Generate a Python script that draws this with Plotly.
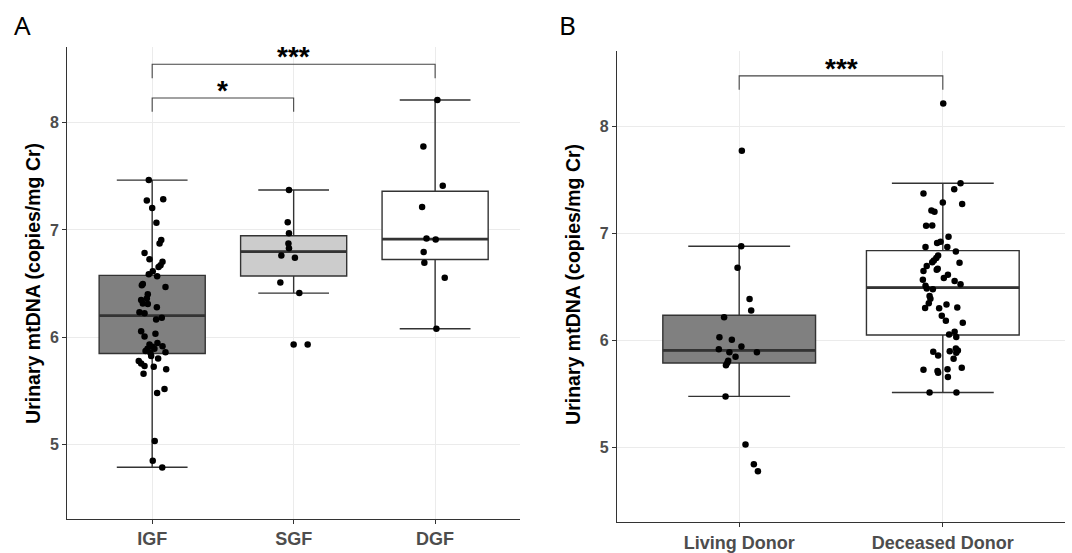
import plotly.graph_objects as go

# ---------------- data ----------------
groups_a = ["IGF", "SGF", "DGF"]
groups_b = ["Living Donor", "Deceased Donor"]

igf_values = [7.465, 7.274, 7.287, 7.204, 7.068, 6.905, 6.874, 6.785, 6.727, 6.702,
              6.671, 6.653, 6.613, 6.585, 6.567, 6.496, 6.484, 6.468, 6.40, 6.36,
              6.345, 6.314, 6.308, 6.277, 6.231, 6.222, 6.179, 6.163, 6.053, 6.006,
              6.031, 5.945, 5.914, 5.93, 5.91, 5.89, 5.87, 5.85, 5.89, 5.859,
              5.80, 5.822, 5.776, 5.754, 5.73, 5.723, 5.699, 5.658, 5.514, 5.477,
              5.030, 4.846, 4.781]
igf_jitter = [-0.024, -0.038, 0.078, 0.0, 0.030, 0.064, 0.052, -0.054, -0.019, 0.073,
              0.059, 0.045, 0.004, -0.024, 0.035, -0.066, -0.073, 0.094, -0.031, -0.038,
              -0.078, -0.066, -0.031, 0.033, -0.090, -0.054, 0.068, 0.028, -0.078, -0.054,
              0.023, 0.037, 0.073, -0.019, 0.002, -0.033, -0.047, -0.012, 0.016, 0.094,
              0.042, -0.007, -0.095, -0.078, -0.054, 0.011, 0.099, -0.061, 0.087, 0.035,
              0.018, 0.004, 0.071]

sgf_values = [7.373, 7.071, 6.970, 6.874, 6.828, 6.761, 6.739, 6.508, 6.41, 5.930, 5.930]
sgf_jitter = [-0.033, -0.042, -0.033, -0.037, -0.033, -0.087, 0.009, -0.094, 0.040, 0.0, 0.099]

dgf_values = [8.213, 7.778, 7.413, 7.213, 6.921, 6.911, 6.794, 6.693, 6.554, 6.078]
dgf_jitter = [0.016, -0.083, 0.054, -0.092, -0.061, 0.004, -0.081, -0.076, 0.068, 0.009]

living_values = [7.770, 6.877, 6.677, 6.385, 6.277, 6.215, 6.028, 6.006, 5.917, 5.942,
                 5.889, 5.889, 5.846, 5.809, 5.790, 5.766, 5.476, 5.028, 4.843, 4.778]
living_jitter = [0.013, 0.010, -0.008, 0.051, 0.059, -0.074, -0.097, -0.036, -0.100, 0.011,
                 -0.048, 0.087, -0.018, -0.054, -0.058, -0.065, -0.067, 0.031, 0.072, 0.092]

deceased_values = [8.210, 7.465, 7.410, 7.369, 7.286, 7.271, 7.212, 7.200, 7.068, 7.071,
                   6.967, 6.920, 6.908, 6.871, 6.871, 6.828, 6.791, 6.769, 6.744, 6.729,
                   6.723, 6.693, 6.646, 6.668, 6.659, 6.612, 6.582, 6.566, 6.554, 6.523,
                   6.508, 6.483, 6.477, 6.413, 6.388, 6.345, 6.302, 6.298, 6.335, 6.305,
                   6.228, 6.182, 6.163, 6.055, 6.080, 6.031, 5.892, 5.859, 5.898, 5.923,
                   5.905, 5.883, 5.828, 5.726, 5.714, 5.698, 5.729, 5.744, 5.658, 5.513,
                   5.513]
deceased_jitter = [0.002, 0.087, 0.056, -0.095, 0.0, 0.095, -0.056, -0.041, -0.082, -0.052,
                   0.028, -0.011, -0.028, -0.085, 0.022, 0.064, -0.023, -0.032, -0.044, -0.052,
                   0.082, -0.079, -0.095, -0.025, -0.030, 0.025, 0.005, -0.098, 0.058, 0.087,
                   -0.085, -0.079, -0.049, -0.065, -0.061, -0.069, -0.087, -0.018, 0.018, 0.071,
                   -0.005, 0.015, 0.098, 0.031, 0.058, 0.066, -0.047, -0.023, 0.034, 0.064,
                   0.074, 0.066, 0.053, -0.095, -0.026, -0.023, 0.023, 0.093, 0.025, -0.065,
                   0.067]

# box statistics
q1_a = [5.847, 6.570, 6.724]
median_a = [6.200, 6.798, 6.914]
q3_a = [6.576, 6.946, 7.361]
lower_a = [4.785, 6.410, 6.078]
upper_a = [7.465, 7.373, 8.213]

q1_b = [5.788, 6.049]
median_b = [5.905, 6.492]
q3_b = [6.234, 6.837]
lower_b = [5.476, 5.513]
upper_b = [6.877, 7.465]

# significance brackets: (group from, group to, height, label)
brackets_a = [(1, 3, 8.546, "***"), (1, 2, 8.232, "*")]
brackets_b = [(1, 2, 8.468, "***")]
bracket_drop = 0.13

y_ticks = [5, 6, 7, 8]
y_title = "Urinary mtDNA (copies/mg Cr)"

# ---------------- style ----------------
fills_a = ["#808080", "#cccccc", "#ffffff"]
fills_b = ["#808080", "#ffffff"]
line_col = "#333333"
box_w = 0.75
FONT = "Liberation Sans, Arial, sans-serif"

fig = go.Figure()


def add_panel(xa, ya, values_list, jitter_list, q1, med, q3, lo, hi, fills, brackets):
    for i in range(len(q1)):
        pos = i + 1
        fig.add_trace(go.Box(
            x=[pos], q1=[q1[i]], median=[med[i]], q3=[q3[i]],
            lowerfence=[lo[i]], upperfence=[hi[i]],
            fillcolor=fills[i], line=dict(color=line_col, width=1.4),
            width=box_w, whiskerwidth=0.667, boxpoints=False,
            xaxis=xa, yaxis=ya, showlegend=False, hoverinfo="skip"))
        fig.add_trace(go.Scatter(
            x=[pos - box_w / 2, pos + box_w / 2], y=[med[i], med[i]],
            mode="lines", line=dict(color=line_col, width=2.8),
            xaxis=xa, yaxis=ya, showlegend=False, hoverinfo="skip"))
    for i, (vals, jit) in enumerate(zip(values_list, jitter_list)):
        pos = i + 1
        fig.add_trace(go.Scatter(
            x=[pos + j for j in jit], y=vals, mode="markers",
            marker=dict(color="black", size=6.5),
            xaxis=xa, yaxis=ya, showlegend=False))
    for (g1, g2, h, lab) in brackets:
        fig.add_trace(go.Scatter(
            x=[g1, g1, g2, g2], y=[h - bracket_drop, h, h, h - bracket_drop],
            mode="lines", line=dict(color="#444444", width=1.1),
            xaxis=xa, yaxis=ya, showlegend=False, hoverinfo="skip"))
        fig.add_annotation(x=(g1 + g2) / 2, y=h, xref=xa, yref=ya, text=lab,
                           showarrow=False, yanchor="bottom", yshift=-10,
                           font=dict(family=FONT, size=28, color="black", weight="bold"))


add_panel("x", "y", [igf_values, sgf_values, dgf_values],
          [igf_jitter, sgf_jitter, dgf_jitter],
          q1_a, median_a, q3_a, lower_a, upper_a, fills_a, brackets_a)
add_panel("x2", "y2", [living_values, deceased_values],
          [living_jitter, deceased_jitter],
          q1_b, median_b, q3_b, lower_b, upper_b, fills_b, brackets_b)

W, H = 1072, 553
xa_common = dict(showgrid=True, gridcolor="#ebebeb", gridwidth=1, zeroline=False,
                 showline=True, linecolor=line_col, linewidth=1.3,
                 ticks="outside", ticklen=4, tickcolor=line_col,
                 tickfont=dict(family=FONT, size=18, color="#4d4d4d", weight="bold"))
ya_common = dict(showgrid=True, gridcolor="#ebebeb", gridwidth=1, zeroline=False,
                 showline=True, linecolor=line_col, linewidth=1.3,
                 ticks="outside", ticklen=4, tickcolor=line_col,
                 tickvals=y_ticks, range=[4.305, 8.703],
                 tickfont=dict(family=FONT, size=16, color="#4d4d4d", weight="bold"))

fig.update_layout(
    width=W, height=H, margin=dict(l=0, r=0, t=0, b=0),
    paper_bgcolor="white", plot_bgcolor="white",
    xaxis=dict(xa_common, domain=[67.3 / W, 520 / W], range=[0.4, 3.6],
               tickvals=[1, 2, 3], ticktext=groups_a, anchor="y"),
    yaxis=dict(ya_common, domain=[1 - 524.3 / H, 1 - 48 / H], anchor="x"),
    xaxis2=dict(xa_common, domain=[617 / W, 1065 / W], range=[0.4, 2.6],
                tickvals=[1, 2], ticktext=groups_b, anchor="y2"),
    yaxis2=dict(ya_common, domain=[1 - 527.7 / H, 1 - 52 / H], anchor="x2",
                range=[4.304, 8.696]),
)

# y-axis titles
for xp, yp in [(33 / W, 1 - 287 / H), (573 / W, 1 - 288 / H)]:
    fig.add_annotation(x=xp, y=yp, xref="paper", yref="paper", text=y_title,
                       textangle=-90, showarrow=False, xanchor="center", yanchor="middle",
                       font=dict(family=FONT, size=19.5, color="black", weight="bold"))

# panel labels
for lab, xp in [("A", 22 / W), ("B", 567 / W)]:
    fig.add_annotation(x=xp, y=1 - 25 / H, xref="paper", yref="paper", text=lab,
                       showarrow=False, xanchor="center", yanchor="middle",
                       font=dict(family="Noto Sans, sans-serif", size=26, color="black"))

fig.write_html("out.html", config={"displayModeBar": False},
               post_script="document.body.style.margin='0px';")
